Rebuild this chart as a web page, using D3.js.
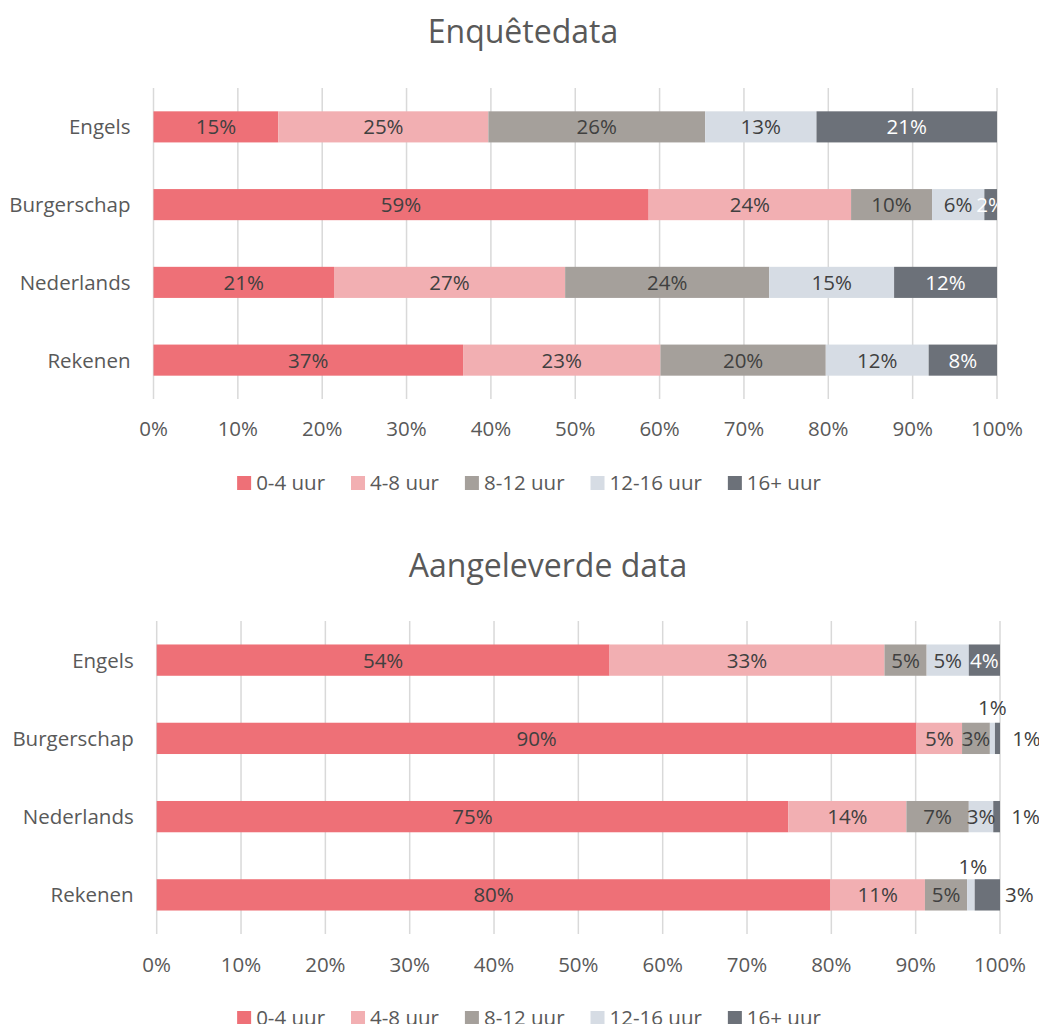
<!DOCTYPE html>
<html lang="nl">
<head>
    <meta charset="UTF-8">
    <title>Enquêtedata en aangeleverde data</title>
    <script src="https://d3js.org/d3.v7.min.js"></script>
    <style>
        body {
            margin: 0;
            padding: 0;
            background-color: #fff;
            font-family: "Open Sans", "Noto Sans", sans-serif;
        }
        .grid line {
            stroke: #d9d9d9;
            stroke-width: 1.5;
        }
        .title {
            fill: #595959;
            font-size: 32px;
        }
        .cat, .tick-label, .legend text {
            fill: #595959;
            font-size: 20.5px;
        }
        .value {
            font-size: 20.5px;
        }
    </style>
</head>
<body>
<div id="chart"></div>
<script>
    const categories = ["Engels", "Burgerschap", "Nederlands", "Rekenen"];
    const seriesNames = ["0-4 uur", "4-8 uur", "8-12 uur", "12-16 uur", "16+ uur"];
    const tickValues = [0, 10, 20, 30, 40, 50, 60, 70, 80, 90, 100];

    // Enquêtedata, % per categorie
    const enquete04 = [14.8, 58.7, 21.4, 36.7];
    const enquete48 = [24.9, 24.0, 27.4, 23.4];
    const enquete812 = [25.7, 9.6, 24.2, 19.6];
    const enquete1216 = [13.2, 6.2, 14.8, 12.2];
    const enquete16 = [21.4, 1.5, 12.2, 8.1];

    // Aangeleverde data, % per categorie
    const aangeleverd04 = [53.7, 90.1, 74.9, 79.9];
    const aangeleverd48 = [32.6, 5.4, 14.0, 11.2];
    const aangeleverd812 = [5.0, 3.3, 7.4, 5.0];
    const aangeleverd1216 = [5.0, 0.6, 2.9, 0.9];
    const aangeleverd16 = [3.7, 0.6, 0.8, 3.0];

    const colors = ["#ee7077", "#f2afb2", "#a5a09b", "#d6dce4", "#6c7179"];
    const labelColors = ["#404040", "#404040", "#404040", "#404040", "#ffffff"];

    // labels that were moved by hand next to / above the bar
    const labelNudge = {
        "Burgerschap|12-16 uur": [0, -31],
        "Burgerschap|16+ uur": [29, 0],
        "Nederlands|16+ uur": [29, 0],
        "Rekenen|12-16 uur": [2, -28],
        "Rekenen|16+ uur": [32, 0]
    };

    const charts = [
        {
            id: "enquete", title: "Enquêtedata", titleX: 523, titleY: 43,
            series: [enquete04, enquete48, enquete812, enquete1216, enquete16],
            x0: 153.5, x1: 997, y0: 88, y1: 399, tickY: 429, legendY: 483,
            clip: true, nudges: {}
        },
        {
            id: "aangeleverd", title: "Aangeleverde data", titleX: 548, titleY: 577,
            series: [aangeleverd04, aangeleverd48, aangeleverd812, aangeleverd1216, aangeleverd16],
            x0: 156.7, x1: 1000, y0: 621, y1: 934, tickY: 965, legendY: 1018,
            clip: false, nudges: labelNudge
        }
    ];

    const svg = d3.select("#chart").append("svg")
        .attr("width", 1039)
        .attr("height", 1024);

    charts.forEach(cfg => {
        const g = svg.append("g").attr("class", "chart-" + cfg.id);

        const x = d3.scaleLinear().domain([0, 100]).range([cfg.x0, cfg.x1]);
        const y = d3.scaleBand().domain(categories)
            .range([cfg.y0, cfg.y1])
            .paddingInner(0.6)
            .paddingOuter(0.3);

        g.append("text")
            .attr("class", "title")
            .attr("x", cfg.titleX)
            .attr("y", cfg.titleY)
            .attr("text-anchor", "middle")
            .text(cfg.title);

        // gridlines
        g.append("g")
            .attr("class", "grid")
            .selectAll("line")
            .data(tickValues)
            .join("line")
            .attr("x1", d => x(d)).attr("x2", d => x(d))
            .attr("y1", cfg.y0).attr("y2", cfg.y1);

        // stack the rows
        const rows = categories.map((c, i) => {
            const row = {cat: c};
            seriesNames.forEach((s, j) => row[s] = cfg.series[j][i]);
            return row;
        });
        const stacked = d3.stack().keys(seriesNames)(rows);

        stacked.forEach((layer, j) => {
            g.append("g")
                .selectAll("rect")
                .data(layer)
                .join("rect")
                .attr("x", d => x(d[0]))
                .attr("y", d => y(d.data.cat))
                .attr("width", d => x(d[1]) - x(d[0]))
                .attr("height", y.bandwidth())
                .attr("fill", colors[j]);
        });

        // data labels
        const clipId = "clip-" + cfg.id;
        if (cfg.clip) {
            g.append("clipPath").attr("id", clipId)
                .append("rect")
                .attr("x", cfg.x0).attr("y", cfg.y0)
                .attr("width", cfg.x1 - cfg.x0).attr("height", cfg.y1 - cfg.y0);
        }
        const labels = g.append("g");
        if (cfg.clip) labels.attr("clip-path", `url(#${clipId})`);

        stacked.forEach((layer, j) => {
            layer.forEach(d => {
                const key = d.data.cat + "|" + seriesNames[j];
                const nudge = cfg.nudges[key];
                const cx = (x(d[0]) + x(d[1])) / 2 + (nudge ? nudge[0] : 0);
                const cy = y(d.data.cat) + y.bandwidth() / 2 + (nudge ? nudge[1] : 0);
                labels.append("text")
                    .attr("class", "value")
                    .attr("x", cx)
                    .attr("y", cy)
                    .attr("dy", "0.36em")
                    .attr("text-anchor", "middle")
                    .attr("fill", nudge ? "#404040" : labelColors[j])
                    .text(Math.round(d[1] - d[0]) + "%");
            });
        });

        // category labels
        g.append("g")
            .selectAll("text")
            .data(categories)
            .join("text")
            .attr("class", "cat")
            .attr("x", cfg.x0 - 23)
            .attr("y", d => y(d) + y.bandwidth() / 2)
            .attr("dy", "0.36em")
            .attr("text-anchor", "end")
            .text(d => d);

        // x tick labels
        g.append("g")
            .selectAll("text")
            .data(tickValues)
            .join("text")
            .attr("class", "tick-label")
            .attr("x", d => x(d))
            .attr("y", cfg.tickY)
            .attr("dy", "0.36em")
            .attr("text-anchor", "middle")
            .text(d => d + "%");

        // legend, centred
        const legend = g.append("g").attr("class", "legend");
        let lx = 0;
        seriesNames.forEach((s, j) => {
            const item = legend.append("g").attr("transform", `translate(${lx},0)`);
            item.append("rect")
                .attr("x", 0).attr("y", cfg.legendY - 7)
                .attr("width", 14).attr("height", 14)
                .attr("fill", colors[j]);
            const t = item.append("text")
                .attr("x", 19).attr("y", cfg.legendY)
                .attr("dy", "0.36em")
                .text(s);
            lx += 19 + t.node().getComputedTextLength() + 26;
        });
        const legendW = lx - 26;
        legend.attr("transform", `translate(${529 - legendW / 2},0)`);
    });
</script>
</body>
</html>
